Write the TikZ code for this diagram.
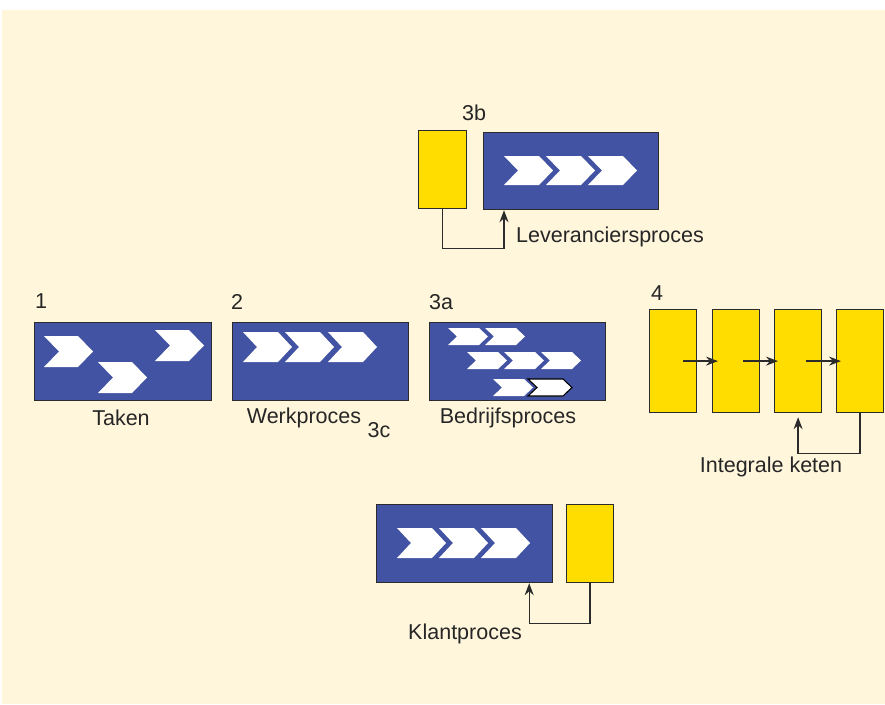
\documentclass[tikz,border=0pt]{standalone}
\usepackage{fontspec}
\setmainfont{Liberation Sans}
\usetikzlibrary{arrows.meta}
\definecolor{bg}{HTML}{FFF6DC}
\definecolor{procblue}{HTML}{4253A3}
\definecolor{chainyellow}{HTML}{FFDD00}
\definecolor{edgegray}{HTML}{2B2B2B}
\newcommand\mychev[6][]{\path[chev,#1] (#2,#3) -- ++({#4-#6},0) -- ++(#6,{#5/2}) -- ++(-#6,{#5/2}) -- ++({-(#4-#6)},0) -- ++(#6,{-#5/2}) -- cycle;}
\begin{document}
\begin{tikzpicture}[x=1pt,y=-1pt,
  procbox/.style={draw=edgegray, line width=1.2pt, fill=procblue, anchor=north west, inner sep=0pt, minimum height=78pt, minimum width=176pt},
  ybox/.style={draw=edgegray, line width=1.2pt, fill=chainyellow, anchor=north west, inner sep=0pt, minimum width=47pt, minimum height=78pt},
  chev/.style={fill=white},
  chevout/.style={fill=white, draw=black, line width=1.1pt},
  conn/.style={draw=edgegray, line width=1.3pt},
  tip/.style={-{Stealth[length=12pt,width=9pt]}},
  lbl/.style={inner sep=0pt, font=\fontsize{21.5}{25}\selectfont, text=black!85}
]
\useasboundingbox (0,0) rectangle (885,704);
\fill[bg] (2,10) rectangle (885,704);

% 3b
\node[ybox, minimum height=78pt, minimum width=48pt] (y3b) at (418,130) {};
\node[procbox, minimum width=175pt, minimum height=77pt] (b3b) at (483,132) {};
\foreach \x in {504,546,588} {\mychev{\x}{156}{49}{29}{14}}
\node[lbl] (t3b) at (474,113) {3b};
\draw[conn, tip] (y3b.south) -- ++(0,39) -| ([xshift=21pt]b3b.south west);
\node[lbl, anchor=west] (tlev) at (516,237) {Leveranciersproces};

% 1
\node[procbox, minimum width=177pt] (b1) at (34,322) {};
\mychev{44}{336}{49}{31}{15}
\mychev{98}{362}{49}{31}{15}
\mychev{155}{330}{49}{31}{15}
\node[lbl, anchor=west] (t1) at (35,301) {1};
\node[lbl] (ttaken) at (121,418) {Taken};

% 2
\node[procbox] (b2) at (232,322) {};
\foreach \x in {243,285,328} {\mychev{\x}{332}{49}{30}{14}}
\node[lbl, anchor=west] (t2) at (231,302) {2};
\node[lbl] (twerk) at (304,418) {Werkproces};
\node[lbl] (t3c) at (379,430) {3c};

% 3a
\node[procbox] (b3a) at (429,322) {};
\foreach \x in {448,485} {\mychev{\x}{328}{40}{17}{9}}
\foreach \x in {467,504,541} {\mychev{\x}{352}{40}{17}{9}}
\mychev{493}{379}{40}{17}{9}
\mychev[chevout]{528}{379}{44}{17}{9}
\node[lbl, anchor=west] (t3a) at (429,302) {3a};
\node[lbl] (tbed) at (508,418) {Bedrijfsproces};

% 4
\node[ybox, minimum height=103pt] (y4a) at (649,309) {};
\node[ybox, minimum height=103pt] (y4b) at (712,309) {};
\node[ybox, minimum height=103pt] (y4c) at (774,309) {};
\node[ybox, minimum height=103pt] (y4d) at (836,309) {};
\draw[conn, tip] ([xshift=10pt]y4a.center) -- ([xshift=6pt]y4b.west);
\draw[conn, tip] ([xshift=7pt]y4b.center) -- ([xshift=4pt]y4c.west);
\draw[conn, tip] ([xshift=8pt]y4c.center) -- ([xshift=5pt]y4d.west);
\draw[conn, tip, shorten >=4pt] (y4d.south) -- ++(0,40) -| (y4c.south);
\node[lbl, anchor=west] (t4) at (651,293) {4};
\node[lbl] (tint) at (771,467) {Integrale keten};

% Klant
\node[procbox] (bK) at (376,504) {};
\node[ybox] (yK) at (566,504) {};
\foreach \x in {397,439,481} {\mychev{\x}{528}{49}{30}{14}}
\draw[conn, tip] (yK.south) -- ++(0,40) -| ([xshift=-24pt]bK.south east);
\node[lbl] (tklant) at (465,634) {Klantproces};
\end{tikzpicture}
\end{document}
